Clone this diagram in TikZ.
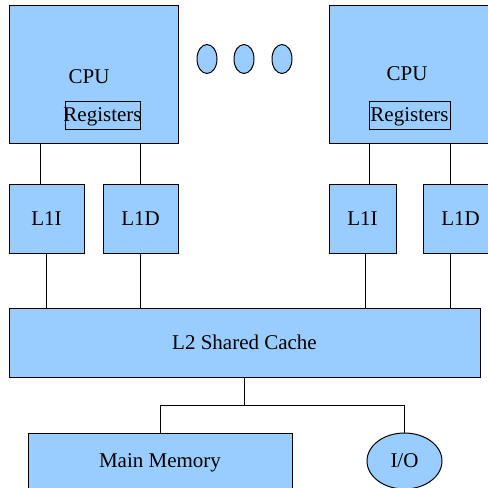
\documentclass[tikz,border=0pt]{standalone}
\usepackage{fontspec}
\setmainfont{Liberation Serif}
\usetikzlibrary{shapes.geometric}
\definecolor{boxblue}{HTML}{99CCFF}

\begin{document}
\begin{tikzpicture}[x=1pt, y=-1pt,
  unit/.style={draw=black, fill=boxblue, line width=1pt, inner sep=0pt,
    text depth=0pt, font=\fontsize{21}{24}\selectfont},
  label/.style={inner sep=0pt, font=\fontsize{21}{24}\selectfont},
  wire/.style={line width=1pt}]
  \useasboundingbox[fill=white] (0,0) rectangle (488,488);

  % Processors
  \node[unit, minimum width=169, minimum height=138] (cpuA) at (93.5,74) {};
  \node[unit, minimum width=169, minimum height=138] (cpuB) at (413.5,74) {};
  \node[label] (cpuAname) at (89,77) {CPU};
  \node[label] (cpuBname) at (407,74) {CPU};
  \node[unit, minimum height=28] (regA) at (102.5,115) {\makebox[75pt]{Registers}};
  \node[unit, minimum width=81, minimum height=28] (regB) at (409.5,115) {Registers};

  % More processors
  \foreach \x [count=\i] in {207,244,282}
    \node[unit, ellipse, minimum width=20, minimum height=29] (more\i) at (\x,59) {};

  % First level caches
  \node[unit, minimum width=75, minimum height=69] (l1iA) at (46.5,218.5) {L1I};
  \node[unit, minimum width=75, minimum height=69] (l1dA) at (140.5,218.5) {L1D};
  \node[unit, minimum width=67, minimum height=69] (l1iB) at (362.5,218.5) {L1I};
  \node[unit, minimum width=75, minimum height=69] (l1dB) at (460.5,218.5) {L1D};

  % Second level and below
  \node[unit, minimum width=471, minimum height=69] (l2) at (244.5,342.5) {L2 Shared Cache};
  \node[unit, minimum width=264, minimum height=56] (mem) at (160,461) {Main Memory};
  \node[unit, ellipse, minimum width=75, minimum height=56] (io) at (404.5,461) {I/O};

  % Wires
  \draw[wire] ([xshift=-6.5]l1iA.north) -- ([xshift=-6.5]l1iA.north |- cpuA.south);
  \draw[wire] (l1dA.north) -- (l1dA.north |- cpuA.south);
  \draw[wire] ([xshift=6.5]l1iB.north) -- ([xshift=6.5]l1iB.north |- cpuB.south);
  \draw[wire] ([xshift=-10.5]l1dB.north) -- ([xshift=-10.5]l1dB.north |- cpuB.south);
  \draw[wire] (l1iA.south) -- (l1iA.south |- l2.north);
  \draw[wire] (l1dA.south) -- (l1dA.south |- l2.north);
  \draw[wire] ([xshift=2.5]l1iB.south) -- ([xshift=2.5]l1iB.south |- l2.north);
  \draw[wire] ([xshift=-10.5]l1dB.south) -- ([xshift=-10.5]l1dB.south |- l2.north);
  \draw[wire] (l2.south) -- ++(0,28) coordinate (split);
  \draw[wire] (mem.north) |- (split) -| (io.north);
\end{tikzpicture}
\end{document}
